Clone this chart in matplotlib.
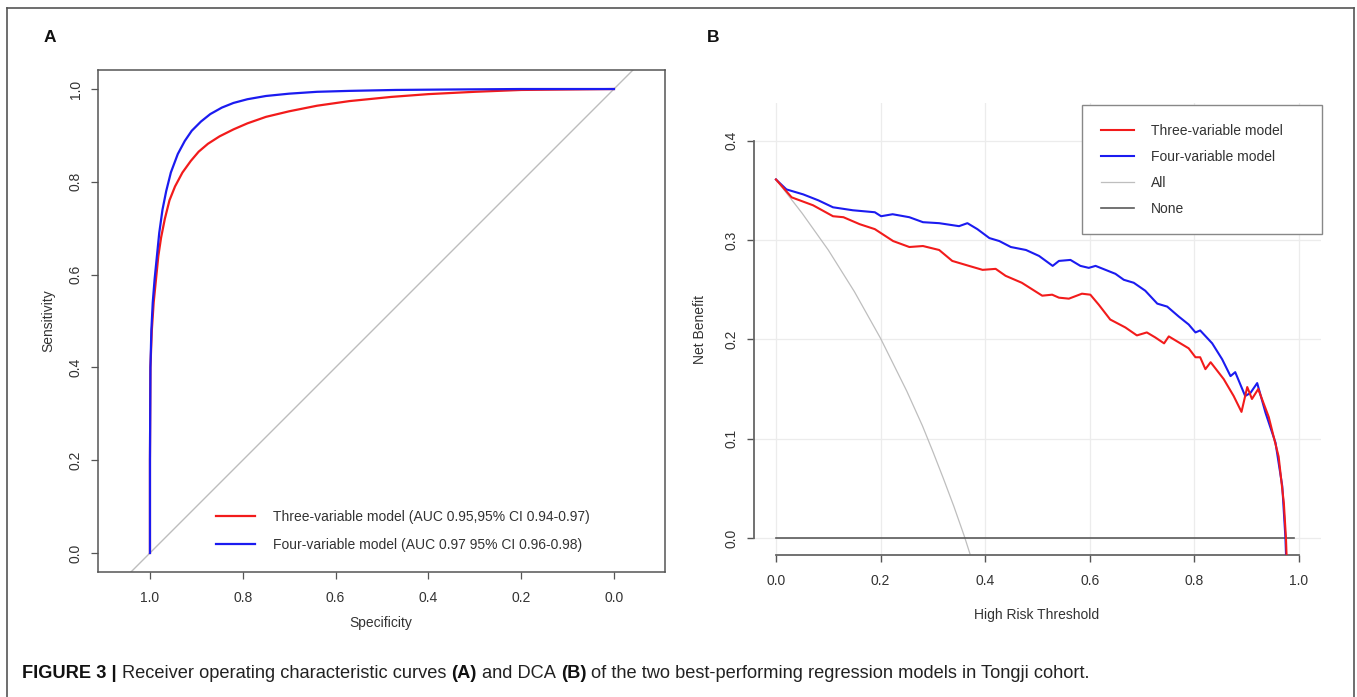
import matplotlib
matplotlib.use("Agg")
import matplotlib.pyplot as plt
from matplotlib.lines import Line2D

# ---------------- data ----------------
# Panel A: ROC curves (specificity, sensitivity)
spec_three = [1.000, 1.000, 0.999, 0.996, 0.992, 0.987, 0.982, 0.976, 0.968, 0.958,
              0.946, 0.930, 0.912, 0.895, 0.875, 0.850, 0.820, 0.790, 0.750, 0.700,
              0.640, 0.570, 0.480, 0.400, 0.300, 0.200, 0.100, 0.000]
sens_three = [0.000, 0.200, 0.400, 0.480, 0.540, 0.590, 0.640, 0.680, 0.720, 0.760,
              0.790, 0.820, 0.845, 0.865, 0.882, 0.898, 0.913, 0.926, 0.940, 0.952,
              0.964, 0.974, 0.983, 0.989, 0.994, 0.998, 0.999, 1.000]
spec_four = [1.000, 1.000, 0.999, 0.997, 0.994, 0.990, 0.985, 0.980, 0.973, 0.965,
             0.955, 0.940, 0.925, 0.910, 0.890, 0.870, 0.845, 0.820, 0.790, 0.750,
             0.700, 0.640, 0.570, 0.470, 0.350, 0.200, 0.000]
sens_four = [0.000, 0.200, 0.400, 0.480, 0.540, 0.590, 0.640, 0.690, 0.740, 0.780,
             0.820, 0.860, 0.888, 0.910, 0.930, 0.946, 0.960, 0.970, 0.978, 0.985,
             0.990, 0.994, 0.996, 0.998, 0.999, 1.000, 1.000]
roc_labels = ["Three-variable model (AUC 0.95,95% CI 0.94-0.97)",
              "Four-variable model (AUC 0.97 95% CI 0.96-0.98)"]
roc_ticks = [1.0, 0.8, 0.6, 0.4, 0.2, 0.0]
roc_ticklabels = ["1.0", "0.8", "0.6", "0.4", "0.2", "0.0"]

# Panel B: decision curves (threshold, net benefit)
thr_three = [0.000, 0.030, 0.071, 0.109, 0.129, 0.160, 0.189, 0.224, 0.255, 0.281,
             0.312, 0.337, 0.369, 0.395, 0.420, 0.439, 0.470, 0.509, 0.528, 0.541,
             0.560, 0.585, 0.601, 0.617, 0.639, 0.668, 0.690, 0.709, 0.725, 0.742,
             0.751, 0.770, 0.789, 0.802, 0.811, 0.821, 0.831, 0.856, 0.875, 0.890,
             0.901, 0.910, 0.922, 0.942, 0.961, 0.971, 0.975, 0.977]
nb_three = [0.361, 0.343, 0.335, 0.324, 0.323, 0.316, 0.311, 0.299, 0.293, 0.294,
            0.290, 0.279, 0.274, 0.270, 0.271, 0.264, 0.257, 0.244, 0.245, 0.242,
            0.241, 0.246, 0.245, 0.235, 0.220, 0.212, 0.204, 0.207, 0.202, 0.196,
            0.203, 0.197, 0.191, 0.182, 0.182, 0.170, 0.177, 0.160, 0.143, 0.127,
            0.152, 0.140, 0.150, 0.122, 0.082, 0.035, 0.000, -0.030]
thr_four = [0.000, 0.020, 0.052, 0.081, 0.109, 0.147, 0.189, 0.201, 0.223, 0.255,
            0.281, 0.312, 0.350, 0.366, 0.385, 0.408, 0.427, 0.449, 0.478, 0.503,
            0.529, 0.541, 0.563, 0.582, 0.598, 0.611, 0.630, 0.649, 0.665, 0.684,
            0.706, 0.729, 0.748, 0.770, 0.789, 0.802, 0.811, 0.834, 0.853, 0.869,
            0.878, 0.897, 0.907, 0.920, 0.936, 0.955, 0.968, 0.974, 0.976]
nb_four = [0.361, 0.351, 0.346, 0.340, 0.333, 0.330, 0.328, 0.324, 0.326, 0.323,
           0.318, 0.317, 0.314, 0.317, 0.311, 0.302, 0.299, 0.293, 0.290, 0.284,
           0.274, 0.279, 0.280, 0.274, 0.272, 0.274, 0.270, 0.266, 0.260, 0.257,
           0.249, 0.236, 0.233, 0.223, 0.215, 0.207, 0.209, 0.196, 0.180, 0.163,
           0.167, 0.143, 0.146, 0.156, 0.126, 0.096, 0.052, 0.000, -0.030]
thr_all = [0.00, 0.05, 0.10, 0.15, 0.20, 0.25, 0.28, 0.30, 0.32, 0.34, 0.36, 0.38]
nb_all = [0.361, 0.327, 0.290, 0.248, 0.201, 0.148, 0.113, 0.087, 0.060, 0.032, 0.002, -0.031]
thr_none = [0.00, 0.99]
nb_none = [0.0, 0.0]
dca_labels = ["Three-variable model", "Four-variable model", "All", "None"]
dca_xticks = [0.0, 0.2, 0.4, 0.6, 0.8, 1.0]
dca_yticks = [0.0, 0.1, 0.2, 0.3, 0.4]

caption_pieces = [("FIGURE 3 |", "bold"), ("Receiver operating characteristic curves", "normal"),
                  ("(A)", "bold"), ("and DCA", "normal"), ("(B)", "bold"),
                  ("of the two best-performing regression models in Tongji cohort.", "normal")]

# ---------------- style ----------------
W, H = 1357, 697
RED = "#F21B1B"
BLUE = "#1B1BF0"
TXT = "#333333"
AX = "#555555"
plt.rcParams["font.family"] = ["Liberation Sans", "DejaVu Sans"]
cap_family = ["Liberation Sans"]

fig = plt.figure(figsize=(W / 100, H / 100), dpi=100)


def fx(px):
    return px / W


def fy(py):
    return 1 - py / H


# outer frame
fig.add_artist(Line2D([fx(7), fx(7)], [fy(8), fy(697)], color="#555555", lw=1.2))
fig.add_artist(Line2D([fx(7), fx(1354)], [fy(8), fy(8)], color="#555555", lw=1.2))
fig.add_artist(Line2D([fx(1354), fx(1354)], [fy(8), fy(697)], color="#555555", lw=1.2))

# ---------------- Panel A ----------------
axA = fig.add_axes([fx(98), fy(572), fx(665) - fx(98), fy(70) - fy(572)])
axA.set_xlim(1.112, -0.110)
axA.set_ylim(-0.041, 1.041)
axA.axline((1, 0), (0, 1), color="#BDBDBD", lw=1.0, zorder=1)
lr, = axA.plot(spec_three, sens_three, color=RED, lw=1.6, zorder=3)
lb, = axA.plot(spec_four, sens_four, color=BLUE, lw=1.6, zorder=4)
axA.set_xticks(roc_ticks)
axA.set_xticklabels(roc_ticklabels)
axA.set_yticks(roc_ticks)
axA.set_yticklabels(roc_ticklabels, rotation=90, va="center")
axA.tick_params(direction="out", length=5, width=0.9, color=AX, labelsize=10,
                labelcolor=TXT, pad=6)
axA.tick_params(axis="x", pad=9)
for s in axA.spines.values():
    s.set_color(AX)
    s.set_linewidth(1.1)
fig.text(fx(381), fy(623), "Specificity", ha="center", va="center", fontsize=10, color=TXT)
fig.text(fx(48), fy(321), "Sensitivity", ha="center", va="center", fontsize=10,
         color=TXT, rotation=90)
fig.text(fx(50), fy(37), "A", ha="center", va="center", fontsize=12.5,
         fontweight="bold", color="#111111")
fig.legend([lr, lb], roc_labels, loc="upper left",
           bbox_to_anchor=(fx(216), fy(510)), frameon=False, fontsize=10,
           handlelength=2.8, handletextpad=1.3, labelspacing=1.0, borderpad=0,
           borderaxespad=0, labelcolor=TXT)

# ---------------- Panel B ----------------
axB = fig.add_axes([fx(754), fy(555), fx(1321) - fx(754), fy(103) - fy(555)])
axB.set_xlim(-0.042, 1.042)
axB.set_ylim(-0.0171, 0.438)
for v in dca_xticks:
    axB.axvline(v, color="#ECECEC", lw=0.9, zorder=0)
for v in dca_yticks:
    axB.axhline(v, color="#ECECEC", lw=0.9, zorder=0)
la, = axB.plot(thr_all, nb_all, color="#BEBEBE", lw=0.9, zorder=2)
ln, = axB.plot(thr_none, nb_none, color="#5A5A5A", lw=1.2, zorder=2)
l4, = axB.plot(thr_four, nb_four, color=BLUE, lw=1.5, zorder=3)
l3, = axB.plot(thr_three, nb_three, color=RED, lw=1.5, zorder=4)
axB.set_xticks(dca_xticks)
axB.set_xticklabels([f"{v:.1f}" for v in dca_xticks])
axB.set_yticks(dca_yticks)
axB.set_yticklabels([f"{v:.1f}" for v in dca_yticks], rotation=90, va="center")
axB.tick_params(direction="out", length=5, width=1.0, color=AX, labelsize=10,
                labelcolor=TXT, pad=6)
axB.tick_params(axis="x", pad=9)
for k in ("top", "right"):
    axB.spines[k].set_visible(False)
axB.spines["left"].set_bounds(0, 0.4)
axB.spines["bottom"].set_bounds(0, 1.0)
for k in ("left", "bottom"):
    axB.spines[k].set_color("#666666")
    axB.spines[k].set_linewidth(1.3)
fig.text(fx(1037), fy(615), "High Risk Threshold", ha="center", va="center",
         fontsize=10, color=TXT)
fig.text(fx(700), fy(329), "Net Benefit", ha="center", va="center", fontsize=10,
         color=TXT, rotation=90)
fig.text(fx(713), fy(37), "B", ha="center", va="center", fontsize=12.5,
         fontweight="bold", color="#111111")
legB = fig.legend([l3, l4, la, ln], dca_labels, loc="upper left",
                  bbox_to_anchor=(fx(1082), fy(233), fx(1322) - fx(1082), fy(105) - fy(233)),
                  mode="expand", borderaxespad=0, fontsize=10, handlelength=2.4,
                  handletextpad=1.2, labelspacing=0.86, borderpad=1.35, fancybox=False,
                  framealpha=1, edgecolor="#888888", labelcolor=TXT)
legB.get_frame().set_linewidth(1.0)

# ---------------- caption ----------------
fig.canvas.draw()
r = fig.canvas.get_renderer()


def caption_width(size):
    tmp = fig.text(0, 0, "a a", fontsize=size, family=cap_family)
    tmp2 = fig.text(0, 0, "aa", fontsize=size, family=cap_family)
    sp = tmp.get_window_extent(r).width - tmp2.get_window_extent(r).width
    tmp.remove()
    tmp2.remove()
    ws = []
    for txt, wt in caption_pieces:
        t = fig.text(0, 0, txt, fontsize=size, fontweight=wt, family=cap_family)
        ws.append(t.get_window_extent(r).width)
        t.remove()
    total = sum(ws) + sp * (len(ws) - 1)
    return total, ws, sp


tot, _, _ = caption_width(10)
size = 10 * 1071 / tot
tot, ws, sp = caption_width(size)
x = 22
for (txt, wt), w in zip(caption_pieces, ws):
    fig.text(fx(x), fy(673), txt, fontsize=size, fontweight=wt, family=cap_family,
             ha="left", va="center", color="#111111" if wt == "bold" else "#222222")
    x += w + sp

fig.savefig("out.png", dpi=100)
